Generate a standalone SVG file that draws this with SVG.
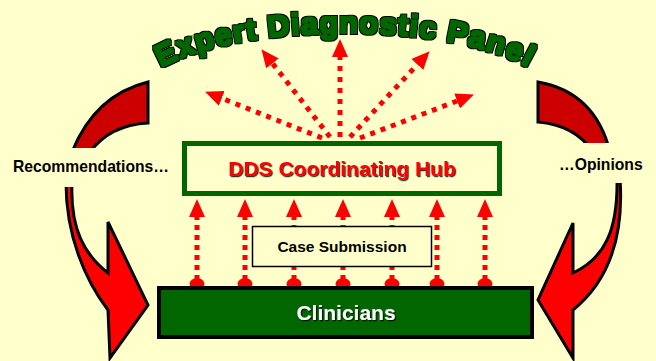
<svg xmlns="http://www.w3.org/2000/svg" xmlns:xlink="http://www.w3.org/1999/xlink" width="656" height="361" viewBox="0 0 656 361">
<style>
.bg{fill:#FFFFCC}
.dot{stroke:#FF0000;stroke-width:5;stroke-dasharray:5 5;fill:none}
.fan{stroke:#FF0000;stroke-width:5;stroke-dasharray:5 6;fill:none}
.foot{fill:#FF0000}
.back{fill:#CC0000;stroke:#000;stroke-width:3;stroke-linejoin:miter}
.front{fill:#FF0000;stroke:#000;stroke-width:3;stroke-linejoin:miter}
.lbl{font-family:"Liberation Sans",Arial,sans-serif;font-weight:bold;fill:#000}
</style>
<defs>
<marker id="head" markerUnits="userSpaceOnUse" markerWidth="18" markerHeight="16" viewBox="0 0 18 16" refX="0" refY="8" orient="auto">
<path d="M0,0 L18,8 L0,16 Z" fill="#FF0000"/>
</marker>
<filter id="shadow" x="-5%" y="-20%" width="110%" height="140%">
<feDropShadow dx="1.2" dy="1.2" stdDeviation="0.2" flood-color="#000" flood-opacity="0.8"/>
</filter>
<filter id="heavy" x="-5%" y="-20%" width="110%" height="140%">
<feMorphology in="SourceAlpha" operator="dilate" radius="1.7" result="outer"/>
<feFlood flood-color="#000000"/>
<feComposite in2="outer" operator="in" result="outline"/>
<feMorphology in="SourceGraphic" operator="dilate" radius="0.6" result="body"/>
<feMerge><feMergeNode in="outline"/><feMergeNode in="body"/></feMerge>
</filter>
<path id="arc" d="M135,100 A210,67 0 0 1 555,100" fill="none"/>
</defs>
<rect class="bg" x="0" y="0" width="656" height="361"/>

<g id="title">
<text font-family="'Liberation Sans',Arial,sans-serif" font-weight="bold" font-size="30.5" letter-spacing="1.2" fill="#006600" filter="url(#heavy)"><textPath xlink:href="#arc" href="#arc" startOffset="50%" text-anchor="middle">Expert Diagnostic Panel</textPath></text>
</g>

<g id="feedback-arrows">
<path class="back" d="M148,82 Q95,95 72,152 L90,152 Q110,125 148,123 Z"/>
<path class="front" d="M66,183 C66,235 85,280 108,310 L110,358 L148,305 L108,222 L108,273 C85,255 70,230 72,183 Z"/>
<rect class="bg" x="5" y="148" width="172" height="39"/>
<text class="lbl" x="13" y="172" font-size="15.7">Recommendations…</text>
<path class="back" d="M538,82 Q595,92 610,152 L593,152 Q575,125 538,122 Z"/>
<path class="front" d="M620,178 C624,235 610,280 573,310 L573,358 L538,300 L573,223 L573,273 C605,258 618,230 617,178 Z"/>
<rect class="bg" x="548" y="143" width="103" height="40"/>
<text class="lbl" x="559" y="170" font-size="15.7">…Opinions</text>
</g>

<g id="connectors">
<line class="fan" x1="322" y1="138" x2="221.8" y2="98.3" marker-end="url(#head)"/>
<line class="fan" x1="330" y1="137" x2="272.5" y2="63.4" marker-end="url(#head)"/>
<line class="fan" x1="340" y1="137" x2="340" y2="57" marker-end="url(#head)"/>
<line class="fan" x1="350" y1="137" x2="417.4" y2="64.5" marker-end="url(#head)"/>
<line class="fan" x1="360" y1="138" x2="457.1" y2="101" marker-end="url(#head)"/>
<g>
<ellipse class="foot" cx="197" cy="284" rx="7.5" ry="6"/>
<ellipse class="foot" cx="245" cy="284" rx="7.5" ry="6"/>
<ellipse class="foot" cx="294" cy="284" rx="7.5" ry="6"/>
<ellipse class="foot" cx="343" cy="284" rx="7.5" ry="6"/>
<ellipse class="foot" cx="392" cy="284" rx="7.5" ry="6"/>
<ellipse class="foot" cx="437" cy="284" rx="7.5" ry="6"/>
<ellipse class="foot" cx="485" cy="284" rx="7.5" ry="6"/>
<line class="dot" x1="197" y1="280" x2="197" y2="217" marker-end="url(#head)"/>
<line class="dot" x1="245" y1="280" x2="245" y2="217" marker-end="url(#head)"/>
<line class="dot" x1="294" y1="280" x2="294" y2="217" marker-end="url(#head)"/>
<line class="dot" x1="343" y1="280" x2="343" y2="217" marker-end="url(#head)"/>
<line class="dot" x1="392" y1="280" x2="392" y2="217" marker-end="url(#head)"/>
<line class="dot" x1="437" y1="280" x2="437" y2="217" marker-end="url(#head)"/>
<line class="dot" x1="485" y1="280" x2="485" y2="217" marker-end="url(#head)"/>
</g>
</g>

<g id="hub">
<rect x="184.5" y="143.5" width="315" height="50" fill="#FFFFCC" stroke="#006600" stroke-width="5"/>
<text x="342" y="176" font-family="'Liberation Sans',Arial,sans-serif" font-weight="bold" font-size="21" fill="#FF0000" text-anchor="middle" filter="url(#shadow)">DDS Coordinating Hub</text>
</g>

<g id="case-submission">
<rect x="252.5" y="226.5" width="179" height="40" fill="#FFFFCC" stroke="#000" stroke-width="1.5"/>
<text class="lbl" x="342" y="252" font-size="15.5" text-anchor="middle">Case Submission</text>
</g>

<g id="clinicians">
<rect x="159" y="288" width="373" height="49" fill="#006600" stroke="#000" stroke-width="4"/>
<text x="346" y="320" font-family="'Liberation Sans',Arial,sans-serif" font-weight="bold" font-size="21" fill="#FFFFFF" text-anchor="middle" filter="url(#shadow)">Clinicians</text>
</g>
</svg>
